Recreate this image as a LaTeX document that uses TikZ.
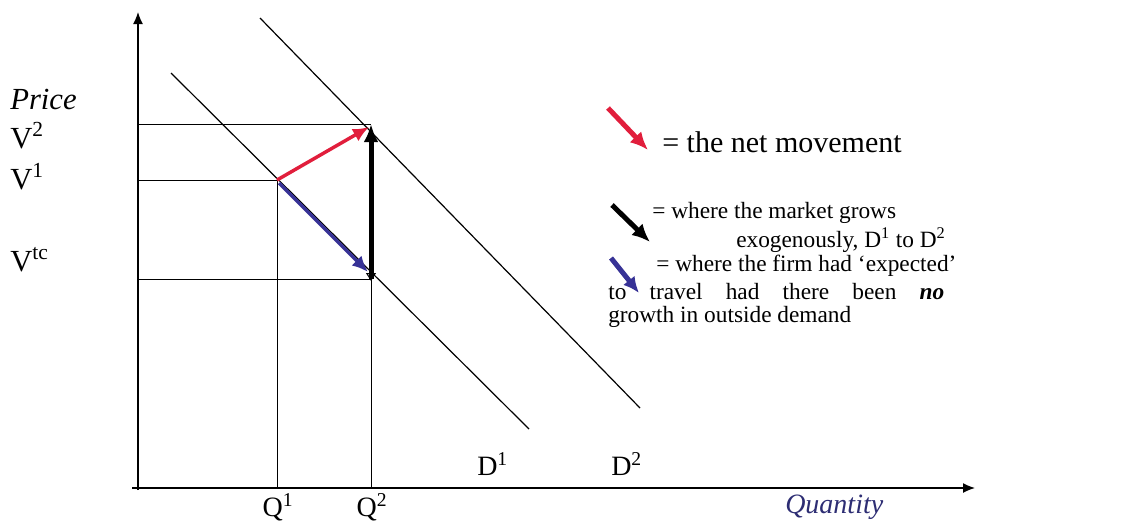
\documentclass[tikz,border=0pt]{standalone}
\usepackage{fontspec}
\setmainfont{Liberation Serif}
\usetikzlibrary{arrows.meta}
\definecolor{netred}{RGB}{225,30,60}
\definecolor{expblue}{RGB}{55,50,150}
\definecolor{qblue}{RGB}{45,45,115}
\tikzset{
  axis/.style={line width=1.05pt,-{Latex[length=9pt,width=7.5pt]}},
  thin/.style={line width=0.75pt},
  dline/.style={line width=0.9pt},
  lbl/.style={inner sep=0pt,anchor=west,font=\fontsize{17.5}{20}\selectfont},
  vlbl/.style={inner sep=0pt,anchor=west,font=\fontsize{23}{26}\selectfont},
  qlbl/.style={inner sep=0pt,font=\fontsize{21}{24}\selectfont},
  redarr/.style={netred,line width=2.6pt,-{Latex[length=12pt,width=10.5pt]}},
  bluearr/.style={expblue,line width=2.6pt,-{Latex[length=12pt,width=10.5pt]}},
  blackarr/.style={black,line width=3.75pt,-{Latex[length=13.5pt,width=11pt]}},
  legred/.style={netred,line width=3.75pt,-{Latex[length=13.5pt,width=12pt]}},
  legblack/.style={black,line width=3.75pt,-{Latex[length=13.5pt,width=12pt]}},
  legblue/.style={expblue,line width=3.75pt,-{Latex[length=12pt,width=11pt]}},
}
\begin{document}
\begin{tikzpicture}[x=0.75pt,y=-0.75pt]
\useasboundingbox (0,0) rectangle (1141,525);
% axes
\coordinate (Ytop) at (138,12);
\coordinate (Xright) at (975,488);
\coordinate (Xleft) at (132,488);
\coordinate (Ybot) at (138,490);
\draw[axis] (Ybot) -- (Ytop);
\draw[axis] (Xleft) -- (Xright);
% key points
\coordinate (A) at (277,180);
\coordinate (B) at (371,124);
\coordinate (C) at (371,279);
\coordinate (yV2) at (138,124);
\coordinate (yV1) at (138,180);
\coordinate (yVtc) at (138,279);
\coordinate (xQ1) at (277,488);
\coordinate (xQ2) at (371,488);
% guide lines
\draw[thin] (yV2) -- (B);
\draw[thin] (yV1) -- (A);
\draw[thin] (yVtc) -- (C);
\draw[thin] (A) -- (xQ1);
\draw[thin] (C) -- (xQ2);
% demand curves
\coordinate (D1s) at (171,73);
\coordinate (D1e) at (529,429);
\coordinate (D2s) at (260,18);
\coordinate (D2e) at (640,408);
\draw[dline] (D1s) -- (D1e);
\draw[dline] (D2s) -- (D2e);
% movement arrows
\coordinate (Bh) at (369,127);
\coordinate (As) at (279,183);
\coordinate (Ch) at (368,272);
\coordinate (Ct) at (371,281);
\draw[redarr] (A) -- (Bh);
\draw[bluearr] (As) -- (Ch);
\draw[black,line width=0.75pt,{Triangle[open,length=6pt,width=7.5pt]}-] (Ct) -- (C);
\draw[blackarr] (C) -- (B);
% axis labels
\node[vlbl,font=\fontsize{23}{26}\selectfont\itshape] (price) at (10,99) {Price};
\node[vlbl] (v2) at (10,136) {V\textsuperscript{2}};
\node[vlbl] (v1) at (10,177) {V\textsuperscript{1}};
\node[vlbl] (vtc) at (10,260) {V\textsuperscript{tc}};
\node[qlbl] (q1) at (278,507) {Q\textsuperscript{1}};
\node[qlbl] (q2) at (372,507) {Q\textsuperscript{2}};
\node[qlbl,anchor=west] (d1) at (477,464) {D\textsuperscript{1}};
\node[qlbl,anchor=west] (d2) at (611,464) {D\textsuperscript{2}};
\node[qlbl,anchor=west,font=\fontsize{21}{24}\selectfont\itshape,text=qblue] (qty) at (785,507) {Quantity};
% legend
\coordinate (LRs) at (608,108);
\coordinate (LRe) at (648,150);
\draw[legred] (LRs) -- (LRe);
\node[lbl,font=\fontsize{22.5}{25}\selectfont] (t1) at (662,142) {= the net movement};
\coordinate (LKs) at (612,205);
\coordinate (LKe) at (650,242);
\draw[legblack] (LKs) -- (LKe);
\node[lbl] (t2) at (652,213) {= where the market grows};
\node[lbl] (t3) at (736,240) {exogenously, D\textsuperscript{1} to D\textsuperscript{2}};
\coordinate (LBs) at (611,258);
\coordinate (LBe) at (639,293);
\draw[legblue] (LBs) -- (LBe);
\node[lbl] (t4) at (656,266) {= where the firm had `expected'};
\node[lbl] (t5) at (608,292) {\makebox[252pt][s]{to travel had there been \textbf{\textit{no}}}};
\node[lbl] (t6) at (608,317) {growth in outside demand};
\end{tikzpicture}
\end{document}
